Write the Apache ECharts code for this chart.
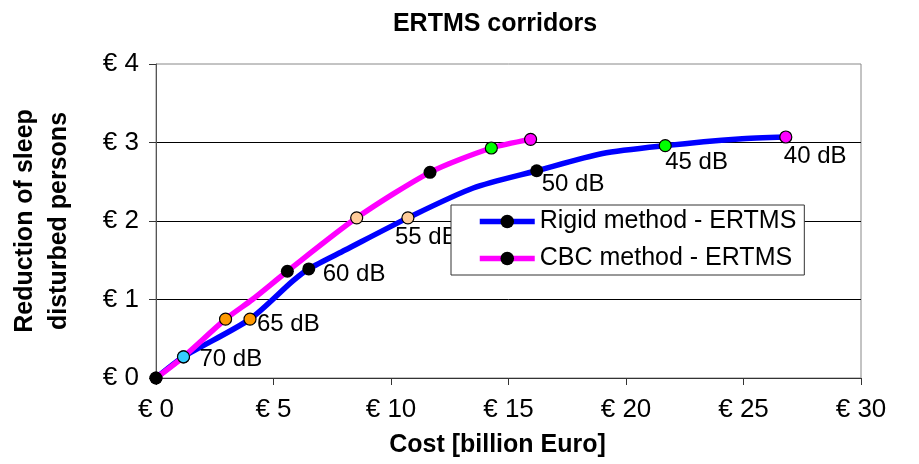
<!DOCTYPE html>
<html>
<head>
<meta charset="utf-8">
<script src="https://cdn.jsdelivr.net/npm/echarts@6/dist/echarts.min.js"></script>
<style>
  html, body { margin: 0; padding: 0; background: #fff; }
  #chart { width: 919px; height: 464px; }
</style>
</head>
<body>
<div id="chart"></div>
<script>
var chart = echarts.init(document.getElementById('chart'));

// values (cost in billion euro, reduction)
var rigidX = [0, 1.17, 4.0, 5.8, 6.5, 8.05, 10.72, 13.5, 16.2, 19.0, 21.67, 24.8, 26.8];
var rigidY = [0, 0.27, 0.75, 1.23, 1.39, 1.63, 2.04, 2.42, 2.64, 2.86, 2.96, 3.045, 3.07];
var rigidMarks = ['#000', '#33ccff', '#ff9900', null, '#000', null, '#ffcc99', null, '#000', null, '#00ff00', null, '#ff00ff'];
var rigidLabels = ['', '70 dB', '65 dB', '', '60 dB', '', '55 dB', '', '50 dB', '', '45 dB', '', '40 dB'];

var cbcX = [0, 1.17, 2.96, 4.1, 5.59, 8.54, 11.66, 14.27, 15.94];
var cbcY = [0, 0.27, 0.75, 1.0, 1.36, 2.04, 2.62, 2.93, 3.04];
var cbcMarks = ['#000', '#33ccff', '#ff9900', null, '#000', '#ffcc99', '#000', '#00ff00', '#ff00ff'];

var xTicks = [0, 5, 10, 15, 20, 25, 30];
var yTicks = [0, 1, 2, 3, 4];

// where each dB label sits relative to its marker
var labelOffsets = {
  '70 dB': [16, 3],
  '65 dB': [7, 5],
  '60 dB': [14, 5],
  '55 dB': [-13, 20],
  '50 dB': [5, 14],
  '45 dB': [0, 17],
  '40 dB': [-2, 19]
};

var font = '"Liberation Sans", Arial, sans-serif';

function buildData(xs, ys, marks, labels) {
  return xs.map(function (x, i) {
    var item = { value: [x, ys[i]] };
    if (marks[i]) {
      item.symbol = 'circle';
      item.symbolSize = marks[i] === '#000' ? 13 : 12;
      item.itemStyle = {
        color: marks[i],
        borderColor: '#000',
        borderWidth: marks[i] === '#000' ? 0 : 1.2
      };
    } else {
      item.symbol = 'none';
    }
    if (labels && labels[i]) {
      item.label = {
        show: true,
        formatter: labels[i],
        position: 'inside',
        align: 'left',
        verticalAlign: 'middle',
        offset: labelOffsets[labels[i]],
        color: '#000',
        fontSize: 24,
        fontFamily: font
      };
    }
    return item;
  });
}

var option = {
  animation: false,
  backgroundColor: '#fff',
  title: {
    text: 'ERTMS corridors',
    left: 495,
    textAlign: 'center',
    top: 12,
    padding: 0,
    textStyle: { fontSize: 25, fontWeight: 'bold', color: '#000', fontFamily: font }
  },
  grid: {
    left: 149, right: 58, top: 64, bottom: 86,
    show: true,
    borderColor: '#888',
    borderWidth: 1
  },
  legend: {
    orient: 'vertical',
    left: 451,
    top: 205,
    padding: [4, 8, 4, 26],
    itemWidth: 55,
    itemHeight: 17,
    itemGap: 12,
    backgroundColor: '#fff',
    borderColor: '#333',
    borderWidth: 1,
    borderRadius: 0,
    lineStyle: { width: 5.5 },
    textStyle: { fontSize: 25, color: '#000', fontFamily: font },
    data: ['Rigid method - ERTMS', 'CBC method - ERTMS']
  },
  xAxis: {
    type: 'value',
    min: xTicks[0],
    max: xTicks[xTicks.length - 1],
    interval: 5,
    name: 'Cost [billion Euro]',
    nameLocation: 'middle',
    nameGap: 55,
    nameTextStyle: { fontSize: 25, fontWeight: 'bold', color: '#000', fontFamily: font, padding: [0, 22, 0, 0] },
    axisLine: { lineStyle: { color: '#333', width: 1 } },
    axisTick: { show: true, length: 7, lineStyle: { color: '#333' } },
    axisLabel: {
      margin: 19,
      fontSize: 26,
      color: '#000',
      fontFamily: font,
      formatter: function (v) { return '€ ' + v; }
    },
    splitLine: { show: false }
  },
  yAxis: {
    type: 'value',
    min: yTicks[0],
    max: yTicks[yTicks.length - 1],
    interval: 1,
    name: 'Reduction of sleep\ndisturbed persons',
    nameLocation: 'middle',
    nameRotate: 90,
    nameGap: 80,
    nameTextStyle: { fontSize: 25, fontWeight: 'bold', color: '#000', fontFamily: font, lineHeight: 34 },
    axisLine: { show: true, lineStyle: { color: '#555', width: 1 } },
    axisTick: { show: true, length: 7, lineStyle: { color: '#333' } },
    axisLabel: {
      margin: 17,
      fontSize: 26,
      color: '#000',
      fontFamily: font,
      formatter: function (v) { return '€ ' + v; }
    },
    splitLine: { show: true, showMinLine: false, showMaxLine: false, lineStyle: { color: '#000', width: 1 } }
  },
  series: [{
    name: 'Rigid method - ERTMS',
    type: 'line',
    smooth: 0.25,
    symbol: 'circle',
    symbolSize: 12,
    itemStyle: { color: '#000' },
    lineStyle: { color: '#0000ff', width: 5.5 },
    emphasis: { disabled: true },
    z: 2,
    data: buildData(rigidX, rigidY, rigidMarks, rigidLabels)
  }, {
    name: 'CBC method - ERTMS',
    type: 'line',
    smooth: 0.25,
    symbol: 'circle',
    symbolSize: 12,
    itemStyle: { color: '#000' },
    lineStyle: { color: '#ff00ff', width: 5.5 },
    emphasis: { disabled: true },
    z: 3,
    data: buildData(cbcX, cbcY, cbcMarks, null)
  }]
};

chart.setOption(option);

window.addEventListener('resize', function () {
  chart.resize();
});
</script>
</body>
</html>
